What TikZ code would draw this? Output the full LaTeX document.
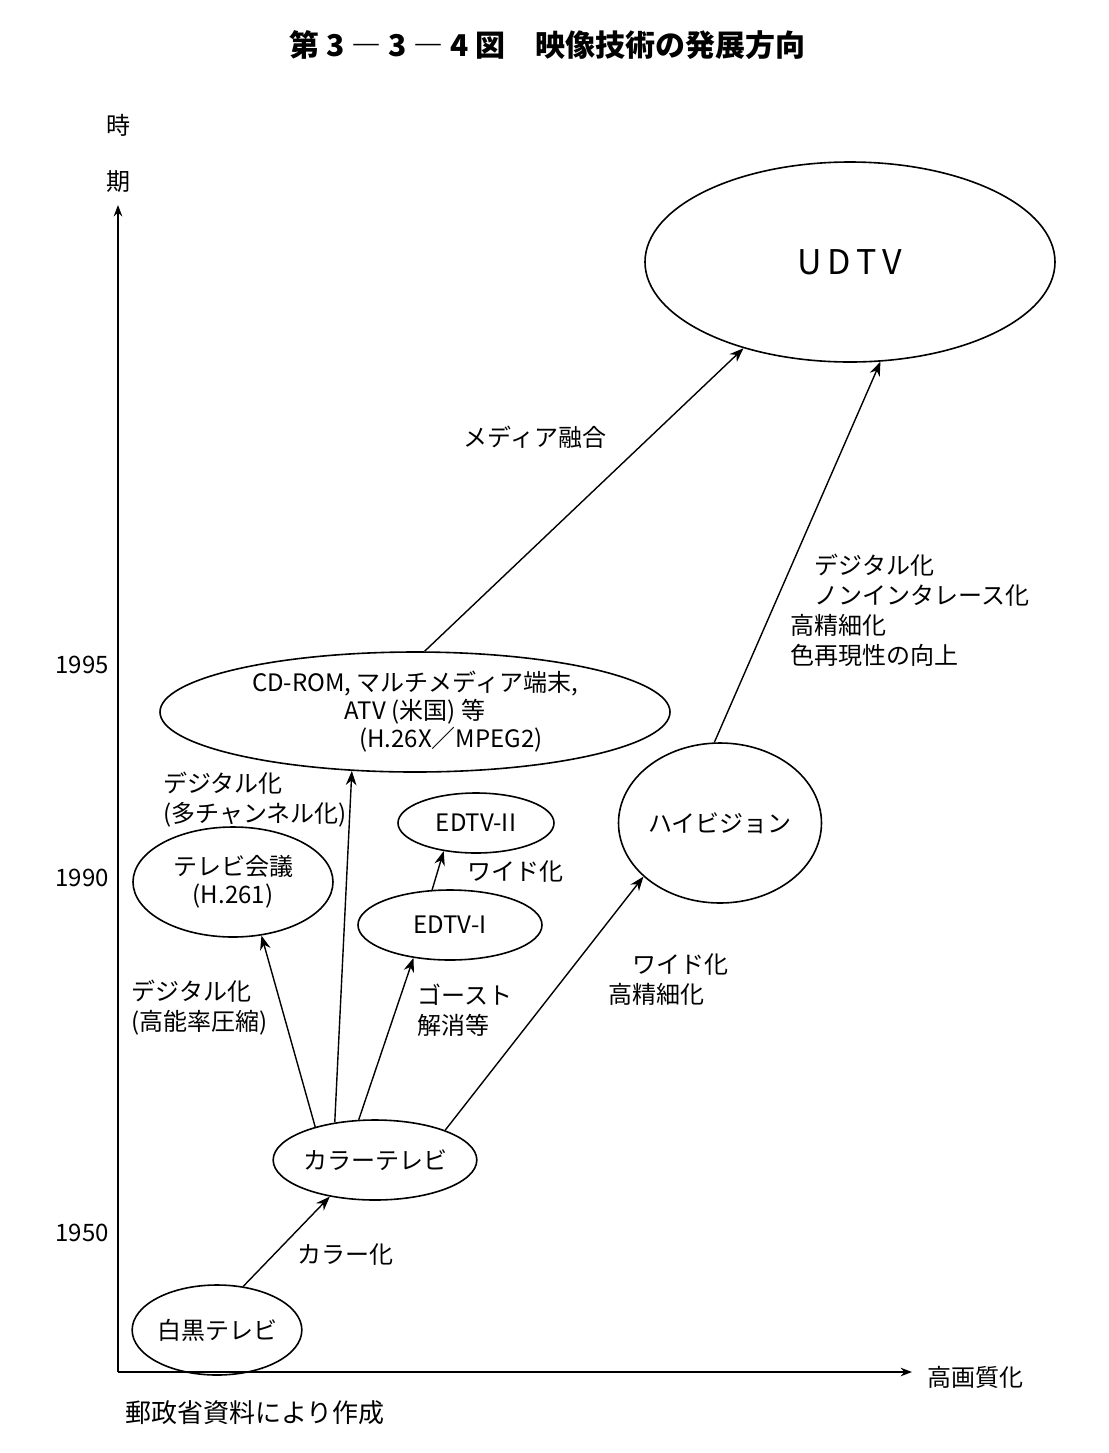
\documentclass[tikz,border=0pt]{standalone}
\usepackage{fontspec}
\newfontfamily\jp{Noto Sans CJK JP}
\usetikzlibrary{shapes.geometric}
\usetikzlibrary{arrows.meta}

\begin{document}
\begin{tikzpicture}[x=0.5pt,y=-0.5pt]
	\tikzstyle{oval} = [ellipse, draw, line width=0.8pt, inner sep=0pt, align=center, font=\jp\fontsize{12}{14}\selectfont]
	\tikzstyle{line} = [draw, line width=0.7pt, -{Stealth[length=2.5mm]}]
	\tikzstyle{lab} = [align=left, font=\jp\fontsize{12}{15}\selectfont]
	\useasboundingbox [fill=white] (0,0) rectangle (1109,1453);

	% title
	\node [font=\jp\bfseries\fontsize{15}{18}\selectfont] (title) at (548,45) {第 3 ― 3 ― 4 図\quad 映像技術の発展方向};

	% axes
	\coordinate (origin) at (118,1372);
	\coordinate (ytop) at (118,205);
	\coordinate (xend) at (912,1372);
	\draw [line width=0.8pt, -{Stealth[length=2mm]}] (origin) -- (ytop);
	\draw [line width=0.8pt, -{Stealth[length=2mm]}] (origin) -- (xend);
	\node [lab] (t1) at (118,125) {時};
	\node [lab] (t2) at (118,182) {期};
	\node [lab] (y95) at (82,665) {1995};
	\node [lab] (y90) at (82,878) {1990};
	\node [lab] (y50) at (82,1233) {1950};
	\node [lab] (xlab) at (975,1377) {高画質化};
	\node [lab, font=\jp\fontsize{13}{15}\selectfont] (src) at (255,1413) {郵政省資料により作成};

	% ellipses
	\node [oval, minimum width=205pt, minimum height=100pt, font=\jp\fontsize{17}{20}\selectfont] (udtv) at (850,262) {U\,D\,T\,V};
	\node [oval, minimum width=255pt, minimum height=60pt] (cd) at (415,712) {CD-ROM, マルチメディア端末,\\ATV (米国) 等\\\hspace*{3em}(H.26X／MPEG2)};
	\node [oval, minimum width=100pt, minimum height=55pt] (tv) at (233,882) {テレビ会議\\(H.261)};
	\node [oval, minimum width=78pt, minimum height=30pt] (ed2) at (476,823) {EDTV-II};
	\node [oval, minimum width=92pt, minimum height=35pt] (ed1) at (450,925) {EDTV-I};
	\node [oval, minimum width=100pt, minimum height=80pt] (hv) at (720,823) {ハイビジョン};
	\node [oval, minimum width=88pt, minimum height=40pt] (color) at (375,1160) {カラーテレビ};
	\node [oval, minimum width=72pt, minimum height=45pt] (bw) at (217,1330) {白黒テレビ};

	% arrows
	\draw [line] (bw.59) -- (color.219);
	\draw [line] (color.151) -- (tv.298);
	\draw [line] (color.137) -- (cd.223);
	\draw [line] (color.112) -- (ed1.222);
	\draw [line] (ed1.117) -- (ed2.221);
	\draw [line] (color.23) -- (hv.215);
	\draw [line] (cd.81) -- (udtv.219);
	\draw [line] (hv.94) -- (udtv.287);

	% labels
	\node [lab] (l1) at (345,1255) {カラー化};
	\node [lab] (l2) at (200,1008) {デジタル化\\(高能率圧縮)};
	\node [lab] (l3) at (255,800) {デジタル化\\(多チャンネル化)};
	\node [lab] (l4) at (465,1010) {ゴースト\\解消等};
	\node [lab] (l5) at (515,872) {ワイド化};
	\node [lab] (l6) at (668,980) {\hspace*{1em}ワイド化\\高精細化};
	\node [lab] (l7) at (535,437) {メディア融合};
	\node [lab] (l8) at (910,610) {\hspace*{1em}デジタル化\\\hspace*{1em}ノンインタレース化\\高精細化\\色再現性の向上};
\end{tikzpicture}
\end{document}
